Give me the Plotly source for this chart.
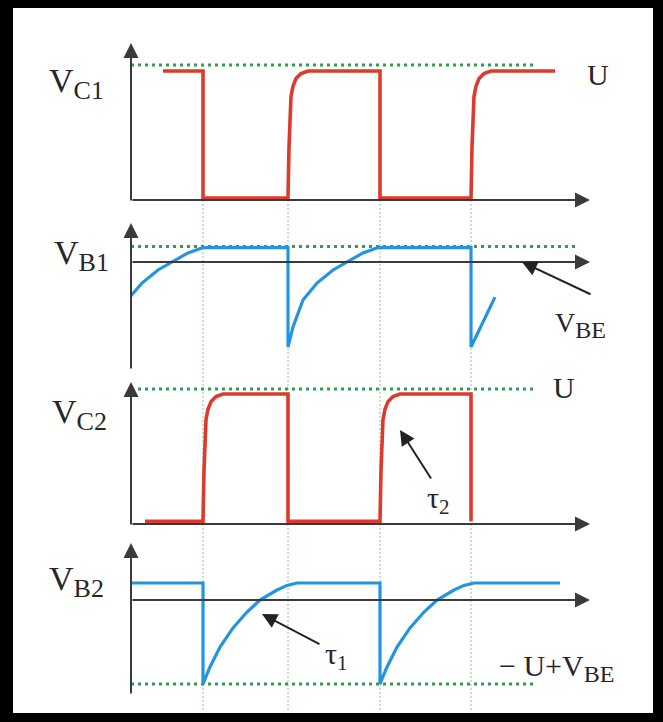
import plotly.graph_objects as go

# ---- waveform data (time in ms, voltages in V) ----
U = 10.0
T_SWITCH = [7.2, 15.7, 24.9, 34.0]      # switching instants of the multivibrator

# collector of T1
C1_START, C1_END = 3.2, 42.4
C1_HIGH, C1_LOW = 9.56, 0.15
# collector of T2
C2_START, C2_END = 1.4, 34.0
C2_HIGH, C2_LOW = 9.63, 0.2
# collector recovery through tau2: time after switch, fraction of swing
TAU2_DT = [0.0, 0.1, 0.3, 0.5, 0.8, 1.3, 2.0]
TAU2_FRAC = [0.0, 0.40, 0.80, 0.88, 0.94, 0.98, 1.0]

# base of T1
B1_START_V = -2.5
B1_FLAT = 1.07
B1_DT = [0.0, 0.5, 1.5, 2.9, 4.5, 5.9, 7.5, 9.0]
B1_V = [-6.3, -4.81, -2.81, -1.56, -0.59, 0.0, 0.67, 1.07]
B1_TAIL_T, B1_TAIL_V = 36.4, -2.6
B1_REF = 1.15                      # V_BE level (dotted)

# base of T2
B2_HIGH = 1.26
B2_END = 42.9
B2_DT = [0.0, 0.7, 1.7, 3.0, 4.4, 5.7, 7.4, 8.4, 9.4]
B2_V = [-6.22, -4.96, -3.48, -2.07, -0.89, 0.0, 0.74, 1.08, 1.26]
B2_REF = -6.22                     # -U + V_BE level (dotted)

RED = "#dc3a2a"
BLUE = "#2395e0"
GREEN = "#2f9e4f"
GUIDE = "#8cc79c"
AXIS = "#3a3a3a"
TEXT = "#262626"
FONT = "Liberation Serif, Times New Roman, serif"


def collector_wave(t0, t_end, start_high, hi, lo):
    t, v = [t0], [hi if start_high else lo]
    high = start_high
    for ts in T_SWITCH:
        if ts > t_end:
            break
        if high:
            t += [ts, ts]
            v += [hi, lo]
        else:
            t += [ts + d for d in TAU2_DT]
            v += [lo + f * (hi - lo) for f in TAU2_FRAC]
        high = not high
    t.append(t_end)
    v.append(hi if high else lo)
    return t, v


# V_C1 starts high, V_C2 starts low
c1_t, c1_v = collector_wave(C1_START, C1_END, True, C1_HIGH, C1_LOW)
c2_t, c2_v = collector_wave(C2_START, C2_END, False, C2_HIGH, C2_LOW)

# V_B1: tail of a recovery, then drops at the 2nd and 4th switch
shift = T_SWITCH[0] - B1_DT[-1]
b1_t = [0.0] + [shift + d for d in B1_DT if shift + d > 1.0]
b1_v = [B1_START_V] + [v for d, v in zip(B1_DT, B1_V) if shift + d > 1.0]
b1_t += [T_SWITCH[1]] + [T_SWITCH[1] + d for d in B1_DT]
b1_v += [B1_FLAT] + B1_V
b1_t += [T_SWITCH[3], T_SWITCH[3], B1_TAIL_T]
b1_v += [B1_FLAT, B1_V[0], B1_TAIL_V]

# V_B2: flat, then drops at the 1st and 3rd switch
b2_t, b2_v = [0.0], [B2_HIGH]
for ts in (T_SWITCH[0], T_SWITCH[2]):
    b2_t += [ts] + [ts + d for d in B2_DT]
    b2_v += [B2_HIGH] + B2_V
b2_t.append(B2_END)
b2_v.append(B2_HIGH)

# ---- figure: four stacked panels sharing one time axis ----
PX = 13.5            # pixels per volt on every panel
PLOT_TOP, PLOT_BOT = 8, 713
ZERO = {"y": 200, "y2": 262, "y3": 524, "y4": 600}   # pixel row of each panel's time axis


def yrange(key):
    z = ZERO[key]
    return [(z - PLOT_BOT) / PX, (z - PLOT_TOP) / PX]


fig = go.Figure()
waves = [(c1_t, c1_v, RED, "y", 3.6), (b1_t, b1_v, BLUE, "y2", 3.2),
         (c2_t, c2_v, RED, "y3", 3.6), (b2_t, b2_v, BLUE, "y4", 3.2)]
for t, v, col, yk, w in waves:
    fig.add_trace(go.Scatter(x=t, y=v, mode="lines", yaxis=yk,
                             line=dict(color=col, width=w),
                             hoverinfo="skip", showlegend=False))

shapes = []
# guide lines at each switching instant
for ts in T_SWITCH:
    shapes.append(dict(type="line", xref="x", yref="y", x0=ts, x1=ts,
                       y0=0, y1=(ZERO["y"] - 712) / PX, layer="below",
                       line=dict(color=GUIDE, width=1, dash="2px,2px")))
# dotted reference levels
for yk, lvl, x1 in [("y", U, 40.4), ("y2", B1_REF, 44.6), ("y3", U, 40.4), ("y4", B2_REF, 40.2)]:
    shapes.append(dict(type="line", xref="x", yref=yk, x0=0, x1=x1, y0=lvl, y1=lvl,
                       layer="below", line=dict(color=GREEN, width=3, dash="3px,4px")))

annotations = []


def arrow(yk, x_tip, y_tip, x_tail, y_tail, color=AXIS, width=2, size=1.5):
    annotations.append(dict(x=x_tip, y=y_tip, ax=x_tail, ay=y_tail, xref="x", yref=yk,
                            axref="x", ayref=yk, text="", showarrow=True,
                            arrowhead=2, arrowsize=size, arrowwidth=width,
                            arrowcolor=color, standoff=0, startstandoff=0))


X_TIP = 45.9
# panel axes: (y key, bottom of vertical axis, tip of vertical axis)
for yk, ybot, ytop in [("y", -0.15, 11.63), ("y2", -8.0, 2.89),
                       ("y3", -0.15, 10.52), ("y4", -7.04, 4.22)]:
    arrow(yk, 0, ytop, 0, ybot)
    arrow(yk, X_TIP, 0, 0, 0)

# pointers
arrow("y2", 39.1, 0.0, 46.1, -2.44, color="#222")
arrow("y3", 26.9, 6.96, 30.1, 3.26, color="#222")
arrow("y4", 13.1, -1.04, 19.0, -3.33, color="#222")


def sub(base, low, low_size):
    return f"{base}<sub><span style='font-size:{low_size}px'>{low}</span></sub>"


def label(yk, x, y, text, size, xanchor="center"):
    annotations.append(dict(x=x, y=y, xref="x", yref=yk, text=text, showarrow=False,
                            xanchor=xanchor, yanchor="middle",
                            font=dict(family=FONT, size=size, color=TEXT)))


label("y", -8.4, 8.6, sub("V", "C1", 26), 34, "left")
label("y2", -7.9, 0.5, sub("V", "B1", 26), 34, "left")
label("y3", -8.1, 8.1, sub("V", "C2", 26), 34, "left")
label("y4", -8.4, 1.4, sub("V", "B2", 26), 34, "left")
label("y", 46.7, 9.3, "U", 30)
label("y3", 43.3, 10.1, "U", 30)
label("y2", 42.2, -4.7, sub("V", "BE", 24), 28, "left")
label("y3", 30.7, 1.8, "τ<sub>2</sub>", 30)
label("y4", 20.5, -4.15, "τ<sub>1</sub>", 30)
label("y4", 36.6, -5.0, "− U+V" + "<sub><span style='font-size:24px'>BE</span></sub>", 30, "left")

hidden = dict(visible=False, fixedrange=True)
fig.update_layout(
    width=663, height=722,
    margin=dict(l=13, r=10, t=PLOT_TOP, b=722 - PLOT_BOT),
    paper_bgcolor="black", plot_bgcolor="white",
    xaxis=dict(range=[(13 - 131) / 10, (653 - 131) / 10], **hidden),
    yaxis=dict(range=yrange("y"), **hidden),
    yaxis2=dict(range=yrange("y2"), overlaying="y", **hidden),
    yaxis3=dict(range=yrange("y3"), overlaying="y", **hidden),
    yaxis4=dict(range=yrange("y4"), overlaying="y", **hidden),
    shapes=shapes, annotations=annotations,
)

fig.write_html("out.html", config={"displayModeBar": False})
